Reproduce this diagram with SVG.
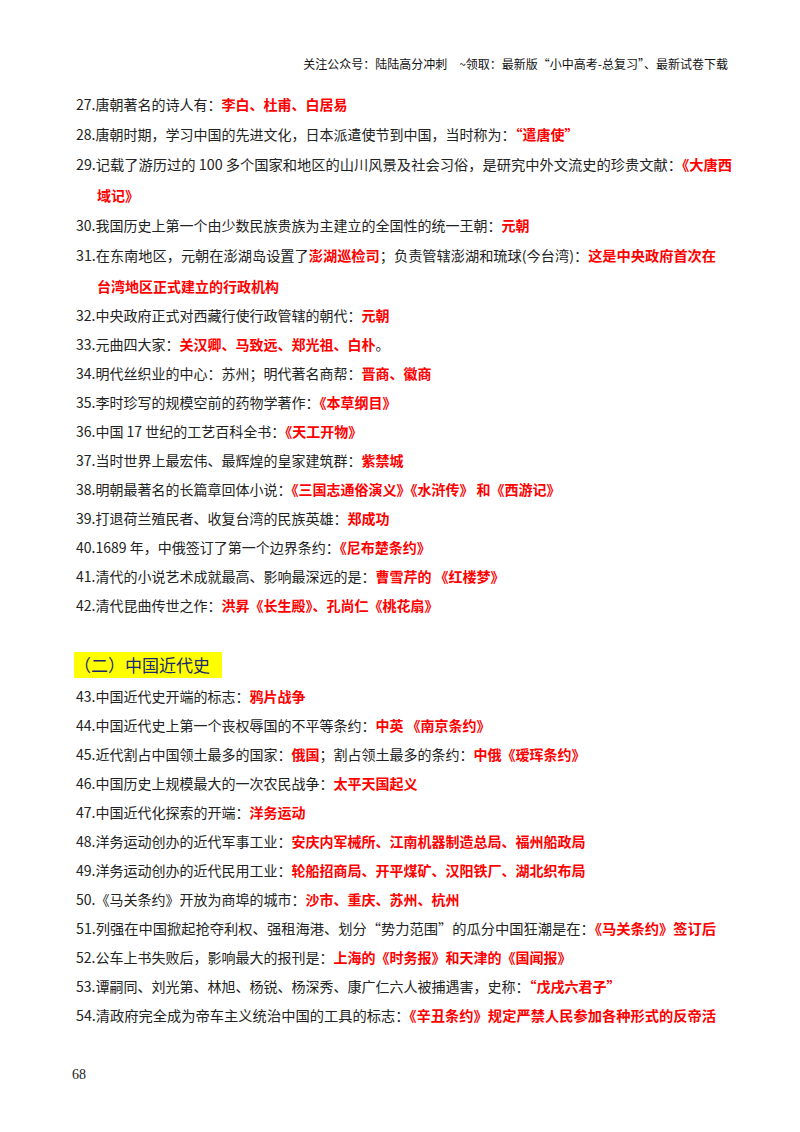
<svg xmlns="http://www.w3.org/2000/svg" width="800" height="1132" viewBox="0 0 800 1132">
<style>
text{font-family:"Noto Sans CJK SC","Noto Sans",sans-serif;font-size:14px;fill:#222}
.r{fill:#f00;font-weight:bold}
.h{font-size:12px;fill:#111}
</style>
<rect width="800" height="1132" fill="#fff"/>
<text class="h" x="728" y="69" text-anchor="end">关注公众号：陆陆高分冲刺　~领取：最新版“小中高考-总复习”、最新试卷下载</text>
<text x="76" y="110">27.唐朝著名的诗人有：<tspan class="r">李白、杜甫、白居易</tspan></text>
<text x="76" y="140">28.唐朝时期，学习中国的先进文化，日本派遣使节到中国，当时称为：<tspan class="r">“遣唐使”</tspan></text>
<text x="76" y="170" textLength="656" lengthAdjust="spacingAndGlyphs">29.记载了游历过的 100 多个国家和地区的山川风景及社会习俗，是研究中外文流史的珍贵文献：<tspan class="r">《大唐西</tspan></text>
<text x="97" y="201" class="r">域记》</text>
<text x="76" y="231">30.我国历史上第一个由少数民族贵族为主建立的全国性的统一王朝：<tspan class="r">元朝</tspan></text>
<text x="76" y="261" textLength="640" lengthAdjust="spacingAndGlyphs">31.在东南地区，元朝在澎湖岛设置了<tspan class="r">澎湖巡检司</tspan>；负责管辖澎湖和琉球(今台湾)：<tspan class="r">这是中央政府首次在</tspan></text>
<text x="97" y="292" class="r">台湾地区正式建立的行政机构</text>
<text x="76" y="321">32.中央政府正式对西藏行使行政管辖的朝代：<tspan class="r">元朝</tspan></text>
<text x="76" y="350">33.元曲四大家：<tspan class="r">关汉卿、马致远、郑光祖、白朴</tspan>。</text>
<text x="76" y="379">34.明代丝织业的中心：苏州；明代著名商帮：<tspan class="r">晋商、徽商</tspan></text>
<text x="76" y="408">35.李时珍写的规模空前的药物学著作：<tspan class="r">《本草纲目》</tspan></text>
<text x="76" y="437">36.中国 17 世纪的工艺百科全书：<tspan class="r">《天工开物》</tspan></text>
<text x="76" y="466">37.当时世界上最宏伟、最辉煌的皇家建筑群：<tspan class="r">紫禁城</tspan></text>
<text x="76" y="495">38.明朝最著名的长篇章回体小说：<tspan class="r">《三国志通俗演义》《水浒传》 和《西游记》</tspan></text>
<text x="76" y="524">39.打退荷兰殖民者、收复台湾的民族英雄：<tspan class="r">郑成功</tspan></text>
<text x="76" y="553">40.1689 年，中俄签订了第一个边界条约：<tspan class="r">《尼布楚条约》</tspan></text>
<text x="76" y="582">41.清代的小说艺术成就最高、影响最深远的是：<tspan class="r">曹雪芹的 《红楼梦》</tspan></text>
<text x="76" y="611">42.清代昆曲传世之作：<tspan class="r">洪昇《长生殿》、孔尚仁《桃花扇》</tspan></text>
<rect x="74" y="652" width="148" height="26" fill="#ffff00"/>
<text x="74" y="672" style="font-size:17px;fill:#1a2a6c">（二）中国近代史</text>
<text x="76" y="702">43.中国近代史开端的标志：<tspan class="r">鸦片战争</tspan></text>
<text x="76" y="731">44.中国近代史上第一个丧权辱国的不平等条约：<tspan class="r">中英 《南京条约》</tspan></text>
<text x="76" y="760">45.近代割占中国领土最多的国家：<tspan class="r">俄国</tspan>；割占领土最多的条约：<tspan class="r">中俄《瑷珲条约》</tspan></text>
<text x="76" y="789">46.中国历史上规模最大的一次农民战争：<tspan class="r">太平天国起义</tspan></text>
<text x="76" y="818">47.中国近代化探索的开端：<tspan class="r">洋务运动</tspan></text>
<text x="76" y="847">48.洋务运动创办的近代军事工业：<tspan class="r">安庆内军械所、江南机器制造总局、福州船政局</tspan></text>
<text x="76" y="876">49.洋务运动创办的近代民用工业：<tspan class="r">轮船招商局、开平煤矿、汉阳铁厂、湖北织布局</tspan></text>
<text x="76" y="905">50.《马关条约》开放为商埠的城市：<tspan class="r">沙市、重庆、苏州、杭州</tspan></text>
<text x="76" y="934" textLength="640" lengthAdjust="spacingAndGlyphs">51.列强在中国掀起抢夺利权、强租海港、划分“势力范围”的瓜分中国狂潮是在：<tspan class="r">《马关条约》签订后</tspan></text>
<text x="76" y="963">52.公车上书失败后，影响最大的报刊是：<tspan class="r">上海的《时务报》和天津的《国闻报》</tspan></text>
<text x="76" y="992">53.谭嗣同、刘光第、林旭、杨锐、杨深秀、康广仁六人被捕遇害，史称：<tspan class="r">“戊戌六君子”</tspan></text>
<text x="76" y="1021" textLength="640" lengthAdjust="spacingAndGlyphs">54.清政府完全成为帝车主义统治中国的工具的标志：<tspan class="r">《辛丑条约》规定严禁人民参加各种形式的反帝活</tspan></text>
<text x="72" y="1079" style="font-family:'Liberation Serif',serif;font-size:14px">68</text>
</svg>
